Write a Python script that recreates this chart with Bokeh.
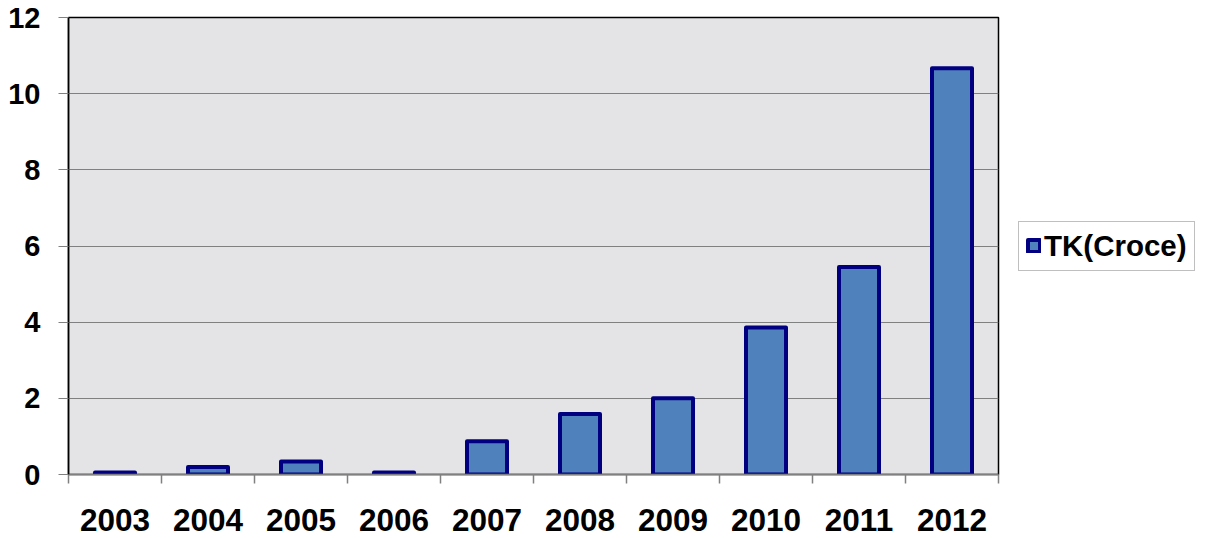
from bokeh.plotting import figure
from bokeh.models import Range1d, FixedTicker, Legend, LegendItem, ColumnDataSource
from bokeh.embed import file_html
from bokeh.resources import INLINE

# ---- data ----
years = ["2003", "2004", "2005", "2006", "2007", "2008", "2009", "2010", "2011", "2012"]
values = [0.05, 0.2, 0.34, 0.05, 0.87, 1.59, 2.0, 3.86, 5.45, 10.67]
series_name = "TK(Croce)"
y_ticks = [0, 2, 4, 6, 8, 10, 12]

x_pos = list(range(len(years)))
src = ColumnDataSource(dict(x=x_pos, top=values, year=years))

p = figure(frame_width=930, frame_height=457,
           x_range=Range1d(-0.5, len(years) - 0.5),
           y_range=Range1d(0, 12),
           output_backend="svg", toolbar_location=None,
           min_border_left=68, min_border_right=214,
           min_border_top=17, min_border_bottom=64)
p.background_fill_color = "#e4e4e7"
p.border_fill_color = "white"
p.outline_line_color = "black"
p.outline_line_width = 1.5

r = p.vbar(x="x", top="top", bottom=0, width=0.43, source=src,
           fill_color="#4f81bd", line_color="#000080", line_width=4,
           line_join="round")

# x axis: labels at category centres, tick marks at category boundaries
xa = p.xaxis[0]
xa.ticker = FixedTicker(ticks=x_pos, minor_ticks=[i - 0.5 for i in range(len(years) + 1)])
xa.major_label_overrides = {i: y for i, y in zip(x_pos, years)}
xa.major_tick_out = 0
xa.major_tick_in = 0
xa.minor_tick_out = 9
xa.minor_tick_in = 0
xa.minor_tick_line_color = "#808080"
xa.minor_tick_line_width = 1.5
xa.axis_line_color = "#808080"
xa.axis_line_width = 1.5
xa.major_label_standoff = 25
xa.major_label_text_font = "Liberation Sans"
xa.major_label_text_font_style = "bold"
xa.major_label_text_font_size = "31.5px"
xa.major_label_text_color = "black"

ya = p.yaxis[0]
ya.ticker = FixedTicker(ticks=y_ticks)
ya.minor_tick_line_color = None
ya.major_tick_out = 10
ya.major_tick_in = 0
ya.major_tick_line_color = "#808080"
ya.major_tick_line_width = 1
ya.axis_line_color = "black"
ya.axis_line_width = 1.5
ya.major_label_standoff = 18
ya.major_label_text_font = "Liberation Sans"
ya.major_label_text_font_style = "bold"
ya.major_label_text_font_size = "29px"
ya.major_label_text_color = "black"

p.xgrid.grid_line_color = None
p.ygrid.grid_line_color = "#808080"
p.ygrid.grid_line_width = 1

legend = Legend(items=[LegendItem(label=series_name, renderers=[r])],
                location="center_left")
legend.border_line_color = "#808080"
legend.border_line_width = 1.5
legend.background_fill_color = "white"
legend.background_fill_alpha = 1
legend.label_text_font = "Liberation Sans"
legend.label_text_font_style = "bold"
legend.label_text_font_size = "29.5px"
legend.label_text_color = "black"
legend.glyph_width = 15
legend.glyph_height = 15
legend.padding = 7
legend.label_standoff = 3
legend.margin = 20
legend.spacing = 0
legend.label_height = 20
p.add_layout(legend, "right")

open("out.html", "w").write(file_html(p, INLINE))
